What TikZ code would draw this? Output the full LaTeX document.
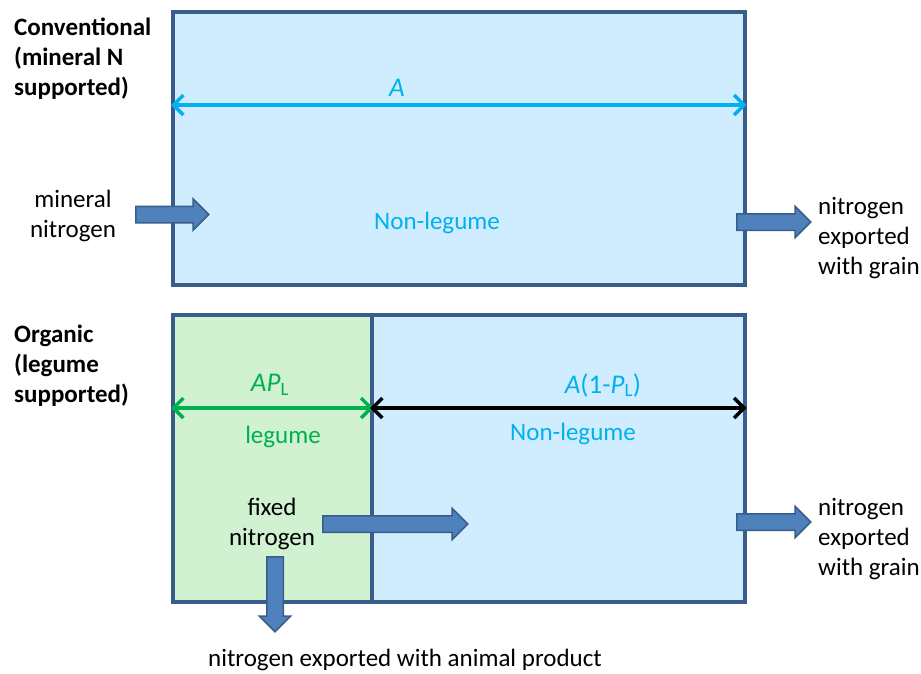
\documentclass[tikz,border=0pt]{standalone}
\usepackage{fontspec}
\setmainfont{Carlito}
\usetikzlibrary{arrows.meta, positioning, shapes.arrows}
\definecolor{boxline}{RGB}{56,93,138}
\definecolor{skyfill}{RGB}{208,236,255}
\definecolor{leaffill}{RGB}{208,242,208}
\definecolor{cyantext}{RGB}{0,176,240}
\definecolor{leafgreen}{RGB}{0,176,80}
\definecolor{flowblue}{RGB}{79,129,189}

\begin{document}
\begin{tikzpicture}[x=1pt, y=-1pt,
  lbl/.style={font=\fontsize{25}{30}\selectfont, inner sep=0pt},
  boldlbl/.style={font=\fontsize{25}{30}\selectfont\bfseries, inner sep=0pt, align=left, anchor=west},
  field/.style={draw=boxline, line width=3.5pt, anchor=north west, inner sep=0pt},
  span/.style={line width=3.5pt, {Straight Barb[length=10pt,width=20pt]}-{Straight Barb[length=10pt,width=20pt]}},
  flow/.style={single arrow, draw=boxline, fill=flowblue, line width=1.5pt, minimum width=0pt,
    inner xsep=0pt, inner ysep=7.5pt, single arrow head extend=7.5pt, anchor=tail}]
  \useasboundingbox (0,0) rectangle (921,673);
  % fields
  \node[field, fill=skyfill, minimum width=572pt, minimum height=273pt] (conv) at (171,10) {};
  \node[field, fill=leaffill, minimum width=199pt, minimum height=287pt] (leg) at (171,313) {};
  \node[field, fill=skyfill, minimum width=373pt, minimum height=287pt] (nonleg) at (370,313) {};
  % side labels
  \node[boldlbl] (convlbl) at (14,59) {Conventional\\(mineral N\\supported)};
  \node[boldlbl] (orglbl) at (14,366) {Organic\\(legume\\supported)};
  % widths
  \draw[span, cyantext] (conv.west |- 0,105) -- (conv.east |- 0,105);
  \node[lbl, cyantext] (alab) at (397,88) {\fontsize{27}{30}\selectfont\textit{A}};
  \draw[span, leafgreen] (leg.west |- 0,408) -- (leg.east |- 0,408);
  \draw[span, black] (nonleg.west |- 0,408) -- (nonleg.east |- 0,408);
  \node[lbl, leafgreen] (aplab) at (270,385) {\fontsize{27}{30}\selectfont\textit{AP}\textsubscript{L}};
  \node[lbl, cyantext] (restlab) at (603,385) {\fontsize{27}{30}\selectfont\textit{A}(1-\textit{P}\textsubscript{L})};
  \node[lbl, cyantext] (nl1) at (437,223) {Non-legume};
  \node[lbl, cyantext] (nl2) at (573,434) {Non-legume};
  \node[lbl, leafgreen] (lg) at (283,437) {legume};
  % nitrogen in and out
  \node[lbl, align=center] (minN) at (73,216) {mineral\\nitrogen};
  \node[lbl, align=left, anchor=west] (grain1) at (818,238) {nitrogen\\exported\\with grain};
  \node[lbl, align=left, anchor=west] (grain2) at (818,539) {nitrogen\\exported\\with grain};
  \node[lbl, align=center] (fixN) at (272,524) {fixed\\nitrogen};
  \node[lbl] (animal) at (405,660) {nitrogen exported with animal product};
  \node[flow, minimum height=73pt] (inflow) at (135,214.5) {};
  \node[flow, minimum height=74pt] (out1) at (736,222) {};
  \node[flow, minimum height=74pt] (out2) at (736,522) {};
  \node[flow, minimum height=145pt] (fixflow) at (322,524) {};
  \node[flow, minimum height=75pt, rotate=-90] (animflow) at (275,556) {};
\end{tikzpicture}
\end{document}
